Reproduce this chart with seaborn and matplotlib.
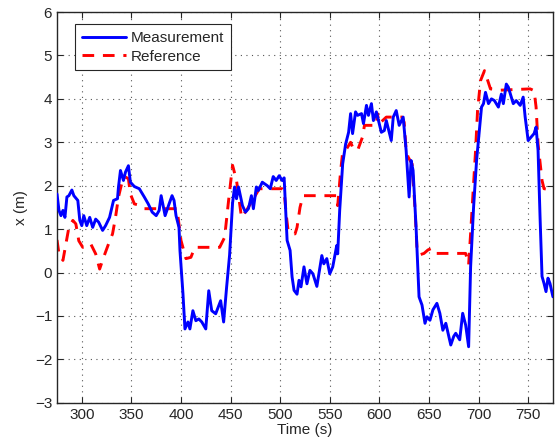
import matplotlib
matplotlib.use("Agg")
import matplotlib.pyplot as plt
import numpy as np
import pandas as pd
import seaborn as sns

# measured position (blue)
meas_t = [275, 277, 279, 281, 283, 285, 287, 290, 292, 296, 298, 300, 302, 305, 308,
          311, 314, 317, 321, 324, 328, 332, 336, 337, 339, 342, 344, 347, 349, 353,
          358, 363, 367, 371, 375, 378, 380, 384, 388, 391, 393, 395, 398, 399, 402,
          404, 407, 409, 412, 415, 418, 421, 425, 428, 431, 435, 440, 443, 446, 449,
          452, 454, 456, 458, 462, 465, 468, 471, 473, 476, 478, 482, 487, 490, 493,
          496, 499, 502, 504, 507, 510, 512, 514, 517, 519, 521, 524, 527, 530, 533,
          537, 542, 544, 547, 550, 553, 557, 558, 560, 563, 566, 569, 571, 573, 576,
          578, 582, 584, 587, 589, 592, 594, 597, 602, 605, 607, 612, 614, 617, 620,
          624, 627, 630, 632, 634, 637, 640, 643, 646, 648, 651, 654, 658, 661, 664,
          667, 672, 675, 677, 681, 684, 687, 690, 692, 695, 698, 700, 703, 705, 707,
          710, 713, 716, 720, 723, 725, 728, 730, 735, 738, 742, 745, 747, 750, 753,
          756, 758, 760, 762, 764, 766, 768, 770, 772, 775]
meas_x = [1.81, 1.43, 1.31, 1.43, 1.27, 1.74, 1.77, 1.90, 1.77, 1.66, 1.20, 1.08, 1.31, 1.08, 1.27,
          1.04, 1.23, 1.16, 0.97, 1.08, 1.27, 1.66, 1.70, 1.97, 2.35, 2.12, 2.31, 2.46, 2.08, 1.98,
          1.93, 1.74, 1.58, 1.39, 1.31, 1.43, 1.77, 1.31, 1.58, 1.77, 1.66, 1.31, 1.04, 0.50, -0.49,
          -1.30, -1.14, -1.30, -0.88, -1.11, -1.07, -1.14, -1.30, -0.42, -0.88, -0.95, -0.65, -1.14, -0.34, 0.40,
          1.60, 1.97, 1.70, 1.97, 1.54, 1.39, 1.47, 1.77, 1.47, 1.97, 1.89, 2.08, 2.00, 1.93, 2.21,
          2.12, 2.23, 2.12, 2.18, 0.74, 0.51, -0.10, -0.41, -0.50, -0.18, -0.33, 0.13, -0.26, 0.05, -0.03,
          -0.32, 0.39, 0.20, 0.32, -0.03, 0.13, 0.62, 0.43, 1.43, 2.50, 2.96, 3.23, 3.66, 3.20, 3.70,
          3.62, 3.66, 3.43, 3.85, 3.62, 3.89, 3.50, 3.70, 3.23, 3.27, 3.50, 3.04, 3.58, 3.73, 3.39,
          3.58, 2.81, 1.74, 2.58, 2.35, 1.05, -0.56, -0.75, -1.17, -1.02, -1.10, -0.86, -0.71, -0.94, -1.33,
          -1.17, -1.67, -1.47, -1.40, -1.55, -0.94, -1.21, -1.71, 0.13, 1.51, 2.58, 3.08, 3.81, 3.89, 4.15,
          3.89, 4.00, 3.96, 3.81, 4.11, 3.89, 4.34, 4.27, 3.89, 3.96, 3.85, 4.04, 3.58, 3.04, 3.12,
          3.20, 3.35, 2.81, 1.28, -0.09, -0.25, -0.44, -0.13, -0.25, -0.56]

# reference position (red dashed)
ref_t = [275, 277, 281, 284, 287, 291, 294, 297, 301, 306, 309, 314, 318, 322, 327,
         331, 334, 337, 341, 344, 347, 349, 353, 358, 363, 369, 396, 400, 405, 410,
         414, 439, 444, 448, 452, 456, 461, 466, 472, 479, 502, 504, 506, 508, 512,
         515, 517, 520, 523, 557, 558, 561, 563, 567, 571, 573, 578, 583, 585, 597,
         598, 600, 607, 623, 625, 627, 629, 631, 633, 636, 638, 641, 645, 649, 652,
         655, 687, 690, 692, 697, 699, 702, 706, 712, 722, 752, 756, 758, 760, 764,
         766, 775]
ref_x = [0.75, 0.43, 0.28, 0.66, 1.04, 1.20, 1.12, 0.73, 0.58, 0.62, 0.66, 0.43, 0.08, 0.35, 0.66,
         0.89, 1.27, 1.74, 2.12, 2.20, 2.16, 1.81, 1.58, 1.55, 1.47, 1.47, 1.47, 0.74, 0.32, 0.35,
         0.58, 0.58, 0.81, 1.66, 2.47, 2.12, 1.27, 1.43, 1.66, 1.93, 1.93, 1.89, 1.35, 0.97, 0.89,
         0.89, 1.04, 1.50, 1.77, 1.77, 1.54, 2.35, 2.77, 2.85, 3.00, 2.89, 2.81, 3.12, 3.39, 3.39,
         3.66, 3.43, 3.58, 3.58, 3.46, 2.81, 2.66, 2.58, 2.50, 1.44, 0.52, 0.41, 0.44, 0.52, 0.55,
         0.44, 0.44, 0.18, 0.90, 2.81, 3.73, 4.42, 4.65, 4.23, 4.20, 4.23, 4.19, 3.81, 2.96, 2.12,
         1.93, 1.90]

x_ticks = [300, 350, 400, 450, 500, 550, 600, 650, 700, 750]
y_ticks = [-3, -2, -1, 0, 1, 2, 3, 4, 5, 6]

sns.set_style("ticks")
plt.rcParams['font.family'] = ['Liberation Sans', 'DejaVu Sans']
plt.rcParams['xtick.direction'] = 'in'
plt.rcParams['ytick.direction'] = 'in'

fig = plt.figure(figsize=(5.56, 4.46), dpi=100)
ax = fig.add_axes([0.1025, 0.097, 0.892, 0.876])

meas = pd.DataFrame({'t': meas_t, 'x': meas_x})
ref = pd.DataFrame({'t': ref_t, 'x': ref_x})
sns.lineplot(data=meas, x='t', y='x', ax=ax, color='#0000ff', linewidth=2.1,
             label='Measurement', zorder=3)
sns.lineplot(data=ref, x='t', y='x', ax=ax, color='#ff0000', linewidth=2.1,
             linestyle=(0, (4, 3)), label='Reference', zorder=2)

ax.set_xlim(275, 775)
ax.set_ylim(-3, 6)
ax.set_xticks(x_ticks)
ax.set_yticks(y_ticks)
ax.set_xticklabels([str(v) for v in x_ticks])
ax.set_yticklabels([str(v).replace('-', '\u2212') for v in y_ticks])
ax.tick_params(axis='both', labelsize=11, colors='#262626', length=4, width=0.8,
               top=True, right=True, labelcolor='#262626')
ax.grid(True, linestyle=(0, (1, 4)), color='#555555', linewidth=0.8)
for s in ax.spines.values():
    s.set_visible(True)
    s.set_color('#262626')
    s.set_linewidth(1.0)

ax.set_xlabel('Time (s)', fontsize=11, color='#262626', labelpad=1)
ax.set_ylabel('x (m)', fontsize=11, color='#262626', labelpad=5)

leg = ax.legend(loc='upper left', bbox_to_anchor=(0.036, 0.969), borderaxespad=0,
                fontsize=11, frameon=True, fancybox=False, edgecolor='#262626',
                framealpha=1, handlelength=2.9, borderpad=0.45, labelspacing=0.3,
                handletextpad=0.3)
leg.get_frame().set_linewidth(0.8)

fig.savefig('out.png', dpi=100)
